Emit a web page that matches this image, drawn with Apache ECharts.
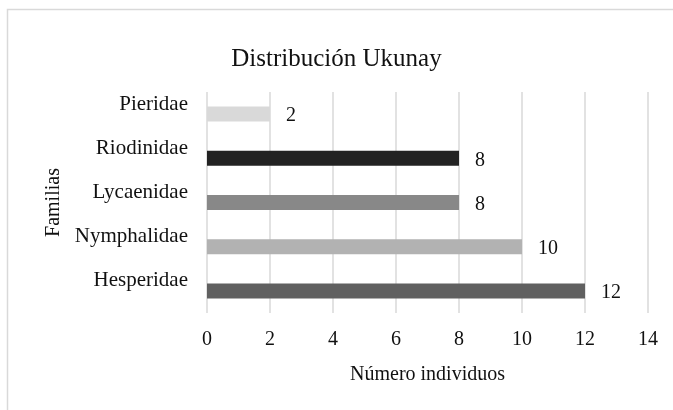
<!DOCTYPE html>
<html>
<head>
<meta charset="utf-8">
<script src="https://cdn.jsdelivr.net/npm/echarts@6/dist/echarts.min.js"></script>
<style>
  html, body { margin: 0; padding: 0; background: #fff; }
  #chart { width: 673px; height: 410px; }
</style>
</head>
<body>
<div id="chart"></div>
<script>
// Distribución Ukunay - número de individuos por familia
var familias = ['Hesperidae', 'Nymphalidae', 'Lycaenidae', 'Riodinidae', 'Pieridae'];
var individuos = [12, 10, 8, 8, 2];
var colores = ['#606060', '#b2b2b2', '#888888', '#222222', '#d9d9d9'];
var xTicks = [0, 2, 4, 6, 8, 10, 12, 14];

var FONT = '"Liberation Serif", "Times New Roman", serif';

var chart = echarts.init(document.getElementById('chart'));

var option = {
  backgroundColor: '#fff',
  animation: false,
  textStyle: { fontFamily: FONT, color: '#111' },
  title: {
    text: 'Distribución Ukunay',
    left: 'center',
    top: 42,
    textStyle: { fontFamily: FONT, fontSize: 25, fontWeight: 'normal', color: '#111' }
  },
  graphic: [{
    type: 'rect',
    shape: { x: 7.5, y: 9.5, width: 700, height: 450 },
    style: { fill: 'none', stroke: '#d9d9d9', lineWidth: 1.5 },
    silent: true
  }],
  grid: { left: 207, right: 25, top: 92, bottom: 97 },
  xAxis: {
    type: 'value',
    min: xTicks[0],
    max: xTicks[xTicks.length - 1],
    interval: 2,
    name: 'Número individuos',
    nameLocation: 'middle',
    nameGap: 52,
    nameTextStyle: { fontFamily: FONT, fontSize: 20, color: '#111' },
    axisLine: { show: false },
    axisTick: { show: false },
    axisLabel: { fontFamily: FONT, fontSize: 20, color: '#111', margin: 17 },
    splitLine: { show: true, lineStyle: { color: '#d9d9d9', width: 1.5 } }
  },
  yAxis: {
    type: 'category',
    data: familias,
    name: 'Familias',
    nameLocation: 'middle',
    nameGap: 142,
    nameTextStyle: { fontFamily: FONT, fontSize: 20, color: '#111' },
    axisLine: { show: false },
    axisTick: { show: false },
    axisLabel: {
      fontFamily: FONT, fontSize: 21, color: '#111', margin: 19,
      lineHeight: 20,
      verticalAlign: 'bottom'
    }
  },
  series: [{
    type: 'bar',
    barWidth: 15,
    data: individuos.map(function (v, i) {
      return { value: v, itemStyle: { color: colores[i] } };
    }),
    label: {
      show: true,
      position: 'right',
      distance: 16,
      offset: [0, 2],
      fontFamily: FONT,
      fontSize: 20,
      color: '#111'
    }
  }]
};

chart.setOption(option);
</script>
</body>
</html>
